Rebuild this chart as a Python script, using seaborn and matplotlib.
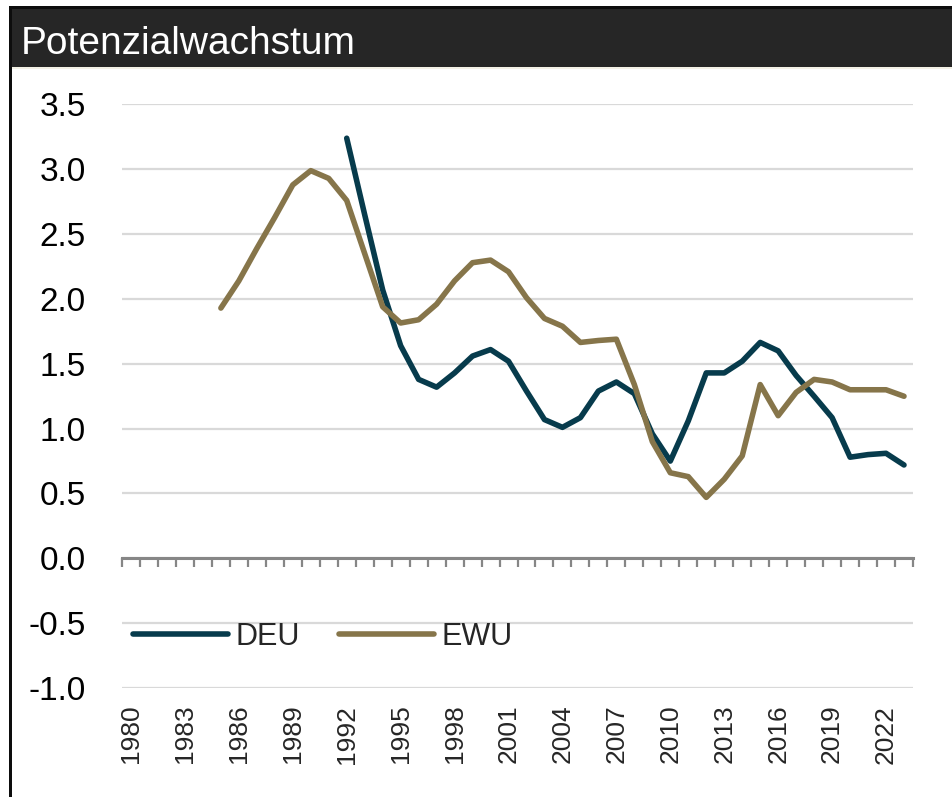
import numpy as np
import pandas as pd
import seaborn as sns
import matplotlib.pyplot as plt
from matplotlib.patches import Rectangle
from matplotlib.ticker import FixedLocator

# Potenzialwachstum, DEU vs. EWU (in %)
years = list(range(1980, 2024))
deu_start = 1992
deu = [3.24, 2.65, 2.07, 1.64, 1.38, 1.32, 1.43, 1.56, 1.61, 1.52, 1.29,
       1.07, 1.01, 1.085, 1.29, 1.36, 1.27, 0.96, 0.75, 1.06, 1.43, 1.43,
       1.52, 1.665, 1.60, 1.41, 1.25, 1.085, 0.78, 0.80, 0.81, 0.72]
ewu_start = 1985
ewu = [1.93, 2.14, 2.39, 2.63, 2.88, 2.99, 2.93, 2.76, 2.35, 1.94, 1.815,
       1.84, 1.96, 2.14, 2.28, 2.30, 2.21, 2.01, 1.85, 1.79, 1.665, 1.68,
       1.69, 1.34, 0.90, 0.66, 0.63, 0.47, 0.61, 0.79, 1.34, 1.10, 1.28,
       1.38, 1.36, 1.30, 1.30, 1.30, 1.25]
series_names = ['DEU', 'EWU']
yticks = [-1.0, -0.5, 0.0, 0.5, 1.0, 1.5, 2.0, 2.5, 3.0, 3.5]
xlabel_years = list(range(1980, 2023, 3))
title = 'Potenzialwachstum'

W, H = 953, 797


def pad_series(start, values):
    out = [np.nan] * (start - years[0]) + list(values)
    return out + [np.nan] * (len(years) - len(out))


def main():
    df = pd.DataFrame({'year': years,
                       'DEU': pad_series(deu_start, deu),
                       'EWU': pad_series(ewu_start, ewu)})
    long_df = df.melt(id_vars='year', value_vars=series_names,
                      var_name='series', value_name='value').dropna()

    sns.set_style('white')
    plt.rcParams['font.family'] = ['Liberation Sans', 'DejaVu Sans']

    fig = plt.figure(figsize=(W / 100, H / 100), dpi=100)
    ax = fig.add_axes([122 / W, 1 - 688 / H, (913 - 122) / W, (688 - 104.5) / H])

    sns.lineplot(data=long_df, x='year', y='value', hue='series',
                 palette={'DEU': '#073b4c', 'EWU': '#86754a'},
                 linewidth=4, ax=ax)

    ax.set_xlim(years[0] - 0.5, years[-1] + 0.5)
    ax.set_ylim(yticks[0], yticks[-1])
    ax.set_xlabel('')
    ax.set_ylabel('')

    # y axis: labels only, light grid
    ax.set_yticks(yticks)
    ax.set_yticklabels([f'{v:.1f}' for v in yticks], fontsize=24)
    ax.tick_params(axis='y', length=0, pad=26, colors='#000000')
    ax.yaxis.grid(True, color='#d9d9d9', linewidth=1.6)
    ax.xaxis.grid(False)
    for side in ['left', 'right', 'top']:
        ax.spines[side].set_visible(False)

    # category axis crossing at zero with tick marks between years
    ax.spines['bottom'].set_position(('data', 0))
    ax.spines['bottom'].set_color('#868686')
    ax.spines['bottom'].set_linewidth(2.2)
    ax.set_xticks([])
    ax.xaxis.set_minor_locator(FixedLocator(np.arange(years[0] - 0.5, years[-1] + 1)))
    ax.tick_params(axis='x', which='minor', bottom=True, length=6.5, width=1.6,
                   color='#868686', direction='out')

    # year labels below the plot
    secax = ax.secondary_xaxis('bottom')
    secax.set_xticks(xlabel_years)
    secax.set_xticklabels([str(y) for y in xlabel_years], rotation=90, fontsize=19)
    secax.tick_params(length=0, pad=12)
    secax.spines['bottom'].set_visible(False)

    sns.move_legend(ax, loc='center left', title=None,
                    bbox_to_anchor=(133 / W, 1 - 637 / H),
                    bbox_transform=fig.transFigure, ncol=2, frameon=False,
                    fontsize=22, handlelength=3.1, handletextpad=0.25,
                    columnspacing=1.3, borderpad=0, borderaxespad=0)

    # frame and title bar
    fig.add_artist(Rectangle((9 / W, 0), 3 / W, 1 - 6 / H,
                             transform=fig.transFigure, color='#0d0d0d', lw=0))
    fig.add_artist(Rectangle((9 / W, 1 - 9 / H), 1, 3 / H,
                             transform=fig.transFigure, color='#0d0d0d', lw=0))
    fig.add_artist(Rectangle((12 / W, 1 - 67 / H), 1, 58 / H,
                             transform=fig.transFigure, color='#262626', lw=0))
    fig.add_artist(Rectangle((12 / W, 1 - 69 / H), 1, 2 / H,
                             transform=fig.transFigure, color='#f3f1e6', lw=0))
    fig.text(21 / W, 1 - 44 / H, title, color='white', fontsize=28,
             va='center', ha='left')

    fig.savefig('out.png', dpi=100, facecolor='white')


main()
